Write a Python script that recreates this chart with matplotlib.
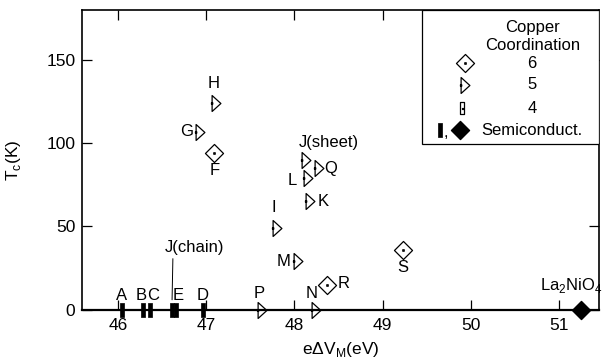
import matplotlib
matplotlib.use("Agg")
import matplotlib.pyplot as plt
from matplotlib.path import Path
from matplotlib.patches import Rectangle
from matplotlib import font_manager

names = set(f.name for f in font_manager.fontManager.ttflist)
fam = ['Liberation Sans Narrow', 'DejaVu Sans'] if 'Liberation Sans Narrow' in names else ['Liberation Sans', 'DejaVu Sans']
plt.rcParams['font.family'] = fam

# ---- data ----
sc_names = ["H", "G", "F", "J(sheet)", "Q", "L", "K", "I", "M", "R", "S", "P", "N"]
sc_x = [47.11, 46.93, 47.09, 48.13, 48.28, 48.15, 48.18, 47.80, 48.04, 48.37, 49.23, 47.63, 48.24]
sc_tc = [124, 107, 94, 90, 85, 79, 65, 49, 29, 15, 36, 0, 0]
sc_coord = [5, 5, 6, 5, 5, 5, 5, 5, 5, 6, 6, 5, 5]

semi_names = ["A", "B", "C", "J(chain)", "E", "D"]
semi_x = [46.04, 46.28, 46.36, 46.61, 46.66, 46.96]
semi_tc = [0, 0, 0, 0, 0, 0]

ni_name = "La$_\\mathregular{2}$NiO$_\\mathregular{4}$"
ni_x = [51.25]
ni_tc = [0]

xticks = [46, 47, 48, 49, 50, 51]
yticks = [0, 50, 100, 150]

# label offsets (points) and horizontal alignment
label_pos = {
    "H": (-2, 14.5, 'center'), "G": (-9.8, 0, 'center'), "F": (0, -12.5, 'center'),
    "J(sheet)": (16.5, 12.2, 'center'), "Q": (8.6, 0, 'center'), "L": (-11, -1.4, 'center'),
    "K": (9.4, 0, 'center'), "I": (-2.4, 14.8, 'center'), "M": (-10.5, 0, 'center'),
    "R": (12, 0.5, 'center'), "S": (0, -13, 'center'), "P": (-2, 11.2, 'center'),
    "N": (-2.6, 11.2, 'center'),
    "A": (-0.4, 10.2, 'center'), "B": (2.6, 10.2, 'right'), "C": (-2.2, 10.2, 'left'),
    "E": (1.4, 10.2, 'center'), "D": (0, 10.2, 'center'),
}

# ---- markers ----
def compound(outline, dot_center, dsize=0.08):
    cx, cy = dot_center
    dot = [(cx - dsize, cy - dsize), (cx + dsize, cy - dsize), (cx + dsize, cy + dsize),
           (cx - dsize, cy + dsize), (cx - dsize, cy - dsize)]
    return Path.make_compound_path(Path(outline + [outline[0]], closed=True), Path(dot, closed=True))

tri_m = compound([(-0.55, -1), (0.55, 0), (-0.55, 1)], (-0.55, 0))
dia_m = compound([(0, 1), (1, 0), (0, -1), (-1, 0)], (0, 0))
rect_m = compound([(-0.3, -1), (0.3, -1), (0.3, 1), (-0.3, 1)], (0, 0))
bar_m = Path([(-0.27, -1), (0.27, -1), (0.27, 1), (-0.27, 1), (-0.27, -1)], closed=True)
fdia_m = Path([(0, 1), (1, 0), (0, -1), (-1, 0), (0, 1)], closed=True)

fig = plt.figure(figsize=(6.02, 3.62), dpi=100)
ax = fig.add_axes([0.1367, 0.145, 0.995 - 0.1367, 0.972 - 0.145])
ax.set_xlim(45.594, 51.454)
ax.set_ylim(0, 180)

for s in ax.spines.values():
    s.set_linewidth(1.2)
ax.spines['bottom'].set_linewidth(1.6)

ax.set_xticks(xticks)
ax.set_yticks(yticks)
ax.tick_params(direction='in', length=7, width=0.9, top=True, right=True, labelsize=12.5)
ax.tick_params(axis='x', pad=6)
ax.tick_params(axis='y', pad=5)
ax.set_xlabel("eΔV$_\\mathregular{M}$(eV)", fontsize=12.5, labelpad=5)
ax.set_ylabel("T$_\\mathregular{c}$(K)", fontsize=12.5)
ax.yaxis.set_label_coords(-0.115, 0.5)

lab_fs = 12
# superconductors
for n, x, y, c in zip(sc_names, sc_x, sc_tc, sc_coord):
    if c == 6:
        ax.plot([x], [y], marker=dia_m, ms=13, mfc='none', mec='black', mew=0.9, ls='none', clip_on=False, zorder=3)
    else:
        ax.plot([x], [y], marker=tri_m, ms=11.5, mfc='none', mec='black', mew=0.9, ls='none', clip_on=False, zorder=3)
    dx, dy, ha = label_pos[n]
    ax.annotate(n, (x, y), xytext=(dx, dy), textcoords='offset points', ha=ha, va='center', fontsize=lab_fs)

# semiconductors (bars)
for n, x, y in zip(semi_names, semi_x, semi_tc):
    ax.plot([x], [y], marker=bar_m, ms=9.4, mfc='black', mec='black', mew=0.5, ls='none', clip_on=False, zorder=3)
    if n == "J(chain)":
        ax.annotate(n, (x, y), xytext=(16.2, 45), textcoords='offset points', ha='center', va='center',
                    fontsize=lab_fs,
                    arrowprops=dict(arrowstyle='-', lw=0.7, color='black', relpos=(0.14, 0.0), shrinkA=1, shrinkB=7))
    else:
        dx, dy, ha = label_pos[n]
        ax.annotate(n, (x, y), xytext=(dx, dy), textcoords='offset points', ha=ha, va='center', fontsize=lab_fs)

ax.plot(ni_x, ni_tc, marker=fdia_m, ms=13, mfc='black', mec='black', ls='none', clip_on=False, zorder=3)
ax.annotate(ni_name, (ni_x[0], ni_tc[0]), xytext=(-7, 17), textcoords='offset points', ha='center', va='center', fontsize=lab_fs)

# ---- legend box ----
T = ax.transAxes
ax.add_patch(Rectangle((0.6575, 0.5526), 1 - 0.6575, 1 - 0.5526, transform=T, fill=True, fc='white', ec='black', lw=0.9, zorder=4))
ax.text(0.872, 0.943, "Copper", transform=T, ha='center', va='center', fontsize=lab_fs, zorder=5)
ax.text(0.872, 0.883, "Coordination", transform=T, ha='center', va='center', fontsize=lab_fs, zorder=5)
ax.plot([0.7404], [0.823], transform=T, marker=dia_m, ms=13, mfc='none', mec='black', mew=0.9, zorder=5, clip_on=False)
ax.text(0.870, 0.823, "6", transform=T, ha='center', va='center', fontsize=lab_fs, zorder=5)
ax.plot([0.7404], [0.750], transform=T, marker=tri_m, ms=11.5, mfc='none', mec='black', mew=0.9, zorder=5, clip_on=False)
ax.text(0.870, 0.750, "5", transform=T, ha='center', va='center', fontsize=lab_fs, zorder=5)
ax.plot([0.735], [0.673], transform=T, marker=rect_m, ms=9, mfc='none', mec='black', mew=0.9, zorder=5, clip_on=False)
ax.text(0.870, 0.673, "4", transform=T, ha='center', va='center', fontsize=lab_fs, zorder=5)
ax.plot([0.693], [0.599], transform=T, marker=bar_m, ms=9.4, mfc='black', mec='black', mew=0.5, zorder=5, clip_on=False)
ax.text(0.699, 0.590, ",", transform=T, ha='left', va='center', fontsize=lab_fs, zorder=5)
ax.plot([0.731], [0.599], transform=T, marker=fdia_m, ms=13, mfc='black', mec='black', zorder=5, clip_on=False)
ax.text(0.870, 0.599, "Semiconduct.", transform=T, ha='center', va='center', fontsize=lab_fs, zorder=5)

fig.savefig("out.png", dpi=100)
